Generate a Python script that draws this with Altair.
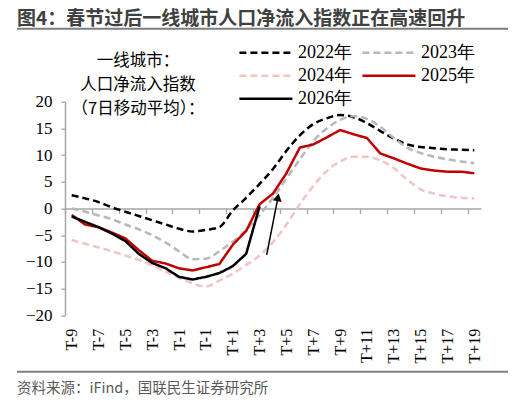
import json
import altair as alt
import pandas as pd

# ---------------- data ----------------
years = ["2022年", "2023年", "2024年", "2025年", "2026年"]
tick_labels = ["T-9", "T-7", "T-5", "T-3", "T-1", "T-1", "T+1", "T+3", "T+5",
               "T+7", "T+9", "T+11", "T+13", "T+15", "T+17", "T+19"]

v2022 = [2.5, 1.9, 1.2, 0.2, -0.6, -1.4, -2.2, -3.0, -3.8, -4.3, -4.0, -3.5, -0.4,
         2.0, 4.6, 7.4, 10.8, 13.7, 15.8, 16.9, 17.5, 17.1, 16.0, 14.5, 13.1, 12.0,
         11.5, 11.3, 11.1, 11.0, 10.9]
v2023 = [0.0, -0.6, -1.3, -2.0, -3.0, -3.9, -5.0, -6.4, -8.0, -9.5, -9.4, -8.0, -6.2,
         -4.0, -1.2, 2.0, 5.6, 9.2, 12.6, 15.0, 16.6, 17.3, 16.8, 15.3, 13.2, 11.4,
         10.4, 9.7, 9.2, 8.8, 8.5]
v2024 = [-5.9, -6.6, -7.3, -8.0, -8.8, -9.6, -10.7, -11.8, -13.0, -14.0, -14.6, -13.5,
         -12.2, -10.6, -8.8, -6.3, -3.0, 0.8, 4.2, 7.0, 8.8, 9.7, 9.7, 9.0, 7.6, 5.4,
         3.6, 2.8, 2.3, 2.0, 1.9]
v2025 = [-1.2, -3.0, -3.5, -4.5, -5.6, -7.8, -9.8, -10.3, -11.2, -11.6, -11.0, -10.4,
         -6.8, -4.2, 0.8, 2.8, 6.6, 11.4, 12.0, 13.3, 14.7, 13.9, 13.2, 10.3, 9.4, 8.4,
         7.5, 7.1, 6.9, 6.9, 6.6]
v2026 = [-1.5, -2.5, -3.5, -4.7, -6.1, -8.5, -10.2, -11.2, -12.8, -13.3, -12.8, -12.1,
         -10.8, -8.5, 0.4]

arrow_x = [14.53]
arrow_y = [-8.7]
arrow_x2 = [15.37]
arrow_y2 = [2.1]

title_text = "图4：春节过后一线城市人口净流入指数正在高速回升"
note_lines = ["一线城市：", "人口净流入指数", "（7日移动平均）："]
source_text = "资料来源：iFind，国联民生证券研究所"

# ---------------- build table ----------------
rows = []
for yr, vals in zip(years, [v2022, v2023, v2024, v2025, v2026]):
    for i, v in enumerate(vals):
        rows.append({"idx": i, "year": yr, "value": v})
df = pd.DataFrame(rows)
arrow_df = pd.DataFrame({"x": arrow_x, "y": arrow_y, "x2": arrow_x2, "y2": arrow_y2})

W = 416
H = 213.6
GRAY = "#a6a6a6"
CJK = "Noto Sans CJK SC"
SERIF = "Liberation Serif"
half_cat = W / 31 / 2

x_axis = alt.Axis(
    values=list(range(0, 31, 2)),
    labelExpr=f"{json.dumps(tick_labels, ensure_ascii=False)}[round(datum.value / 2)]",
    labelAngle=270, labelFont=SERIF, labelFontSize=16, labelColor="#000000",
    labelFlush=False, labelOverlap=False, labelSeparation=0,
    offset=-H / 2, labelPadding=114.8, tickOffset=-half_cat, labelOffset=half_cat,
    tickSize=5, tickColor=GRAY, tickWidth=1.3, domainColor=GRAY, domainWidth=1.5,
    title=None, grid=False,
)
y_axis = alt.Axis(
    values=list(range(-20, 21, 5)), labelFont=SERIF, labelFontSize=17,
    labelColor="#000000", labelFlush=False, labelOverlap=False,
    tickSize=4, tickColor=GRAY, tickWidth=1.3, domainColor=GRAY, domainWidth=1.5,
    labelPadding=9, title=None, grid=False,
)
# long horizontal line symbol: from -r to 4r (r = sqrt(size)/2)
legend = alt.Legend(
    title=None, orient="none", legendX=173, legendY=-61, columns=2,
    direction="horizontal", columnPadding=5, rowPadding=2,
    symbolType="M-1,0H4", symbolSize=450,
    labelFont=SERIF, labelFontSize=18, labelColor="#000000", labelOffset=36,
)
color_scale = alt.Scale(domain=years,
                        range=["#000000", "#b8b8b8", "#f2c4c4", "#c00000", "#000000"])
dash_scale = alt.Scale(domain=years, range=[[7, 4], [7, 4], [7, 4], [1, 0], [1, 0]])
width_scale = alt.Scale(domain=years, range=[2.5, 2.5, 2.5, 2.2, 3.2])
x_scale = alt.Scale(domain=[-0.5, 30.5], nice=False, zero=False)
y_scale = alt.Scale(domain=[-20, 20], nice=False)

base = alt.Chart(df).encode(
    x=alt.X("idx:Q", scale=x_scale, axis=x_axis),
    y=alt.Y("value:Q", scale=y_scale, axis=y_axis),
    color=alt.Color("year:N", scale=color_scale, legend=legend),
    strokeDash=alt.StrokeDash("year:N", scale=dash_scale, legend=legend),
    strokeWidth=alt.StrokeWidth("year:N", scale=width_scale, legend=legend),
)
dashed = base.transform_filter(
    alt.FieldOneOfPredicate(field="year", oneOf=years[:3])
).mark_line(interpolate="monotone")
solid = base.transform_filter(
    alt.FieldOneOfPredicate(field="year", oneOf=years[3:])
).mark_line()

arrow_line = alt.Chart(arrow_df).mark_rule(color="#000000", strokeWidth=1.5).encode(
    x=alt.X("x:Q", scale=x_scale, axis=x_axis),
    y=alt.Y("y:Q", scale=y_scale, axis=y_axis),
    x2="x2:Q", y2="y2:Q")
arrow_head = alt.Chart(arrow_df).mark_point(
    shape="triangle-up", filled=True, size=80, angle=11, color="#000000", opacity=1
).encode(x=alt.X("x2:Q", scale=x_scale, axis=x_axis),
         y=alt.Y("y2:Q", scale=y_scale, axis=y_axis))

one = pd.DataFrame({"k": [0]})
title_mark = alt.Chart(one).mark_text(
    text=title_text, align="left", baseline="middle", font=CJK, fontSize=19,
    fontWeight="bold", color="#404040"
).encode(x=alt.value(-48), y=alt.value(-82.9))
title_rule = alt.Chart(one).mark_rule(color="#7f7f7f", strokeWidth=2).encode(
    x=alt.value(-48), x2=alt.value(445), y=alt.value(-72.9))
foot_rule = alt.Chart(one).mark_rule(color="#7f7f7f", strokeWidth=2).encode(
    x=alt.value(-48), x2=alt.value(445), y=alt.value(270))
source_mark = alt.Chart(one).mark_text(
    text=source_text, align="left", baseline="middle", font=CJK, fontSize=14.5,
    color="#595959"
).encode(x=alt.value(-48), y=alt.value(287.5))

note_layers = []
for line, yy in zip(note_lines, [-41.2, -17.2, 6.8]):
    note_layers.append(alt.Chart(one).mark_text(
        text=line, align="center", baseline="middle", font=CJK, fontSize=16.5,
        color="#000000"
    ).encode(x=alt.value(73), y=alt.value(yy)))

chart = alt.layer(
    dashed, solid, arrow_line, arrow_head, title_mark, title_rule, foot_rule,
    source_mark, *note_layers
).properties(
    width=W, height=H,
    autosize=alt.AutoSizeParams(type="none"),
    padding={"left": 57, "top": 93.7, "right": 27, "bottom": 88.7},
).configure_view(stroke=None).configure_axis(labelOverlap=False)

chart.save("out.html", embed_options={"renderer": "svg", "actions": False})
